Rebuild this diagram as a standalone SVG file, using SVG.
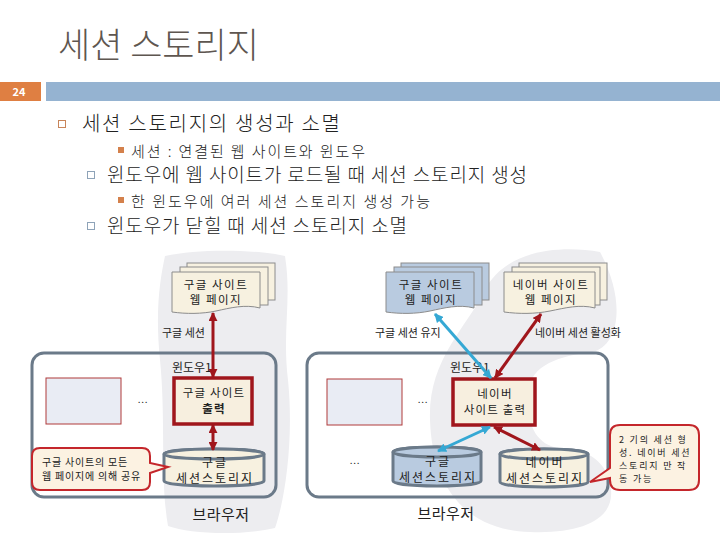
<svg xmlns="http://www.w3.org/2000/svg" width="720" height="540" viewBox="0 0 720 540">
<defs>
<style>
.t{font-family:"Noto Sans CJK KR","Liberation Sans",sans-serif;fill:#222}
.pg{font-size:11.5px;letter-spacing:1.5px}
.bx{font-size:11.5px;letter-spacing:1.2px}
.cy{font-size:12px;letter-spacing:2px}
.lb{font-size:11px}
.sm{font-size:10px;letter-spacing:0.8px}
.sm2{font-size:9px;letter-spacing:1.8px}
.mid{text-anchor:middle}
.page{stroke:#8c8c8c;stroke-width:1}
.cream{fill:#f7f1e0}
.bluef{fill:#b9cbe0}
.win{fill:none;stroke:#6b7a89;stroke-width:3}
.outbox{fill:#f7efdf;stroke:#a0161c;stroke-width:3.5}
.small{fill:#e9ecf4;stroke:#b03a3a;stroke-width:1}
.cyl{stroke:#6b7a89;stroke-width:3}
.red{stroke:#a0161c;stroke-width:3;fill:none}
.blue{stroke:#35a8d4;stroke-width:3;fill:none}
.callout{fill:#fcf2e2;stroke:#c4262b;stroke-width:2}
.blob{fill:#ededf0}
.bl{font-weight:300}
</style>
<marker id="mr" viewBox="0 0 10 10" refX="9" refY="5" markerWidth="3" markerHeight="3" orient="auto-start-reverse"><path d="M0,0 L10,5 L0,10 z" fill="#a0161c"/></marker>
<marker id="mb" viewBox="0 0 10 10" refX="9" refY="5" markerWidth="3" markerHeight="3" orient="auto-start-reverse"><path d="M0,0 L10,5 L0,10 z" fill="#35a8d4"/></marker>
</defs>
<rect width="720" height="540" fill="#fff"/>

<g id="title">
<text x="58" y="58" class="t" style="font-size:35px;fill:#5e5650;font-weight:300">세션 스토리지</text>
<rect x="0" y="82" width="41" height="19" fill="#df7f42"/>
<text x="19" y="96" class="t mid" style="font-size:11px;fill:#fff;font-weight:bold">24</text>
<rect x="46" y="82" width="674" height="19" fill="#95b3d1"/>
</g>

<g id="bullets">
<rect x="58.5" y="120.5" width="7" height="7" fill="none" stroke="#c8855a" stroke-width="1"/>
<text x="82" y="131" class="t bl" style="font-size:20px" textLength="258">세션 스토리지의 생성과 소멸</text>
<rect x="118" y="147" width="6" height="6" fill="#d4814c"/>
<text x="131" y="157" class="t bl" style="font-size:15px" textLength="234">세션 : 연결된 웹 사이트와 윈도우</text>
<rect x="87.5" y="171.5" width="7" height="7" fill="none" stroke="#8ea3b8" stroke-width="1"/>
<text x="107" y="182" class="t bl" style="font-size:19px" textLength="420">윈도우에 웹 사이트가 로드될 때 세션 스토리지 생성</text>
<rect x="118" y="197" width="6" height="6" fill="#d4814c"/>
<text x="131" y="207" class="t bl" style="font-size:15px" textLength="299">한 윈도우에 여러 세션 스토리지 생성 가능</text>
<rect x="87.5" y="222.5" width="7" height="7" fill="none" stroke="#8ea3b8" stroke-width="1"/>
<text x="107" y="233" class="t bl" style="font-size:19px" textLength="300">윈도우가 닫힐 때 세션 스토리지 소멸</text>
</g>

<g id="blobs">
<path class="blob" d="M165 256 C200 248 260 250 285 256 C292 300 282 330 288 380 C294 440 285 500 275 528 C240 536 190 534 168 526 C160 480 166 420 160 360 C155 310 160 280 165 256 Z"/>
<path class="blob" d="M600 252 C560 245 505 250 485 290 C465 330 428 360 430 420 C432 480 460 530 530 532 C580 534 614 520 611 490 C608 462 590 450 560 448 C535 446 525 420 528 392 C531 364 560 356 592 352 C620 346 626 300 600 252 Z"/>
</g>

<g id="left-browser">
<rect class="win" x="32" y="353" width="244" height="144" rx="12"/>
<text x="221" y="520" class="t mid" style="font-size:15px;letter-spacing:0.5px">브라우저</text>
</g>
<g id="left-pages">
<rect class="page cream" x="187" y="263" width="88" height="37"/>
<rect class="page cream" x="180" y="267" width="88" height="38"/>
<path class="page cream" d="M172 272 H260 V308 C245 304 230 308 216 311 C202 314 186 314 172 312 Z"/>
<text x="216" y="289" class="t pg mid">구글 사이트</text>
<text x="216" y="304" class="t pg mid">웹 페이지</text>
</g>
<g id="left-session-label"><text x="162" y="337" class="t lb">구글 세션</text></g>
<g id="left-window-label"><text x="172" y="372" class="t" style="font-size:12px">윈도우1</text></g>
<g id="left-small"><rect class="small" x="46" y="378" width="75" height="46"/><text x="143" y="403" class="t sm mid">...</text></g>
<g id="left-output">
<rect class="outbox" x="174" y="378" width="78" height="46"/>
<text x="214" y="397" class="t bx mid">구글 사이트</text>
<text x="214" y="413" class="t bx mid" style="font-weight:bold">출력</text>
</g>
<g id="left-storage">
<path class="cyl cream" d="M164 454 A50 5 0 0 1 264 454 V481 A50 5 0 0 1 164 481 Z"/>
<ellipse class="cyl" cx="214" cy="454" rx="50" ry="5" fill="#f7f1e0"/>
<text x="215" y="467" class="t cy mid">구글</text>
<text x="215" y="483" class="t cy mid">세션스토리지</text>
</g>
<g id="left-callout">
<path class="callout" d="M40 448 H142 Q150 448 150 456 V463 L168 467 L150 473 V482 Q150 490 142 490 H40 Q32 490 32 482 V456 Q32 448 40 448 Z"/>
<text x="42" y="466" class="t sm">구글 사이트의 모든</text>
<text x="42" y="480" class="t sm">웹 페이지에 의해 공유</text>
</g>

<g id="right-browser">
<rect class="win" x="307" y="353" width="301" height="144" rx="12"/>
<text x="446" y="519" class="t mid" style="font-size:15px;letter-spacing:0.5px">브라우저</text>
</g>
<g id="right-google-pages">
<rect class="page bluef" x="401" y="263" width="88" height="37"/>
<rect class="page bluef" x="394" y="267" width="88" height="38"/>
<path class="page bluef" d="M386 272 H474 V308 C459 304 444 308 430 311 C416 314 400 314 386 312 Z"/>
<text x="431" y="289" class="t pg mid">구글 사이트</text>
<text x="431" y="304" class="t pg mid">웹 페이지</text>
</g>
<g id="right-naver-pages">
<rect class="page cream" x="519" y="263" width="88" height="37"/>
<rect class="page cream" x="512" y="267" width="88" height="38"/>
<path class="page cream" d="M504 272 H595 V308 C580 304 565 308 550 311 C535 314 519 314 504 312 Z"/>
<text x="551" y="289" class="t pg mid">네이버 사이트</text>
<text x="551" y="304" class="t pg mid">웹 페이지</text>
</g>
<g id="right-labels">
<text x="375" y="337" class="t lb">구글 세션 유지</text>
<text x="535" y="337" class="t lb">네이버 세션 활성화</text>
<text x="450" y="372" class="t" style="font-size:12px">윈도우1</text>
</g>
<g id="right-small"><rect class="small" x="327" y="379" width="75" height="46"/><text x="423" y="403" class="t sm mid">...</text><text x="355" y="464" class="t sm mid">...</text></g>
<g id="right-output">
<rect class="outbox" x="453" y="379" width="82" height="46"/>
<text x="495" y="398" class="t bx mid">네이버</text>
<text x="495" y="414" class="t bx mid">사이트 출력</text>
</g>
<g id="right-google-storage">
<path class="cyl bluef" d="M393 452 A44 5 0 0 1 481 452 V481 A44 5 0 0 1 393 481 Z"/>
<ellipse class="cyl" cx="437" cy="452" rx="44" ry="5" fill="#b9cbe0"/>
<text x="438" y="466" class="t cy mid">구글</text>
<text x="438" y="482" class="t cy mid">세션스토리지</text>
</g>
<g id="right-naver-storage">
<path class="cyl cream" d="M500 454 A44 5 0 0 1 588 454 V482 A44 5 0 0 1 500 482 Z"/>
<ellipse class="cyl" cx="544" cy="454" rx="44" ry="5" fill="#f7f1e0"/>
<text x="545" y="467" class="t cy mid">네이버</text>
<text x="545" y="483" class="t cy mid">세션스토리지</text>
</g>
<g id="right-callout">
<path class="callout" d="M620 425 H689 Q699 425 699 435 V480 Q699 490 689 490 H620 Q610 490 610 480 V478 L590 482 L610 468 V435 Q610 425 620 425 Z"/>
<text x="619" y="443" class="t sm2">2 기의 세션 형</text>
<text x="619" y="456" class="t sm2">성. 네이버 세션</text>
<text x="619" y="469" class="t sm2">스토리지 만 작</text>
<text x="619" y="482" class="t sm2">동 가능</text>
</g>

<g id="connectors">
<line class="red" x1="213" y1="313" x2="213" y2="377" marker-start="url(#mr)" marker-end="url(#mr)"/>
<line class="red" x1="213" y1="425" x2="213" y2="450" marker-start="url(#mr)" marker-end="url(#mr)"/>
<line class="blue" x1="435" y1="314" x2="491" y2="378" marker-start="url(#mb)" marker-end="url(#mb)"/>
<line class="red" x1="541" y1="314" x2="495" y2="378" marker-start="url(#mr)" marker-end="url(#mr)"/>
<line class="blue" x1="490" y1="427" x2="438" y2="451" marker-start="url(#mb)" marker-end="url(#mb)"/>
<line class="red" x1="494" y1="427" x2="540" y2="450" marker-start="url(#mr)" marker-end="url(#mr)"/>
</g>
</svg>
